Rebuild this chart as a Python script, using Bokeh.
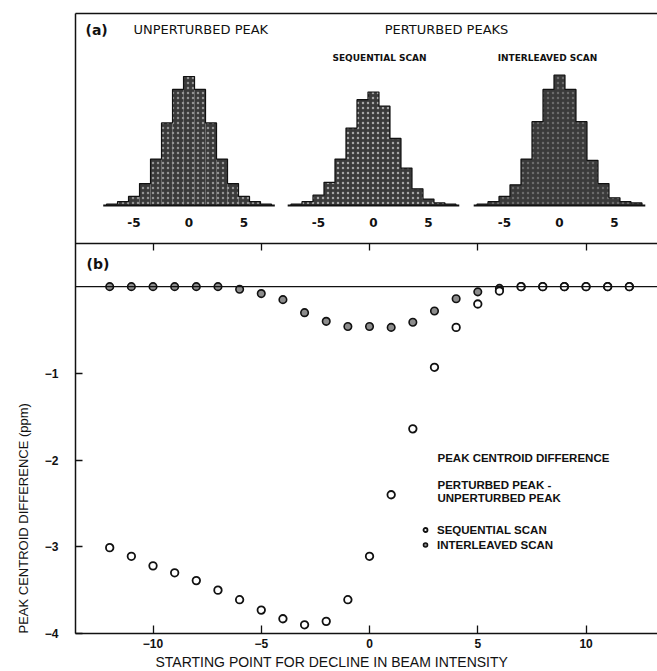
from bokeh.embed import file_html
from bokeh.models import FixedTicker, Label, Legend, LegendItem, LinearAxis, Range1d, Span, Title
from bokeh.plotting import figure
from bokeh.resources import INLINE

# ---- (a) peak shapes: counts per 1 ppm bin ----
hist_bins = list(range(-7, 8))
unperturbed_counts = [1, 3, 7, 17, 36, 64, 90, 100, 90, 64, 36, 17, 7, 3, 1]
sequential_counts = [1, 3, 8, 18, 36, 60, 82, 88, 77, 52, 29, 13, 5, 2, 1]
interleaved_counts = [1, 3, 7, 16, 36, 65, 90, 101, 90, 65, 35, 17, 6, 3, 2]
hist_tick_values = [-5, 0, 5]

# ---- (b) centroid difference vs starting point of the beam decline ----
start_point = list(range(-12, 13))
sequential_diff = [-3.01, -3.11, -3.22, -3.30, -3.39, -3.50, -3.61, -3.73, -3.83,
                   -3.90, -3.86, -3.61, -3.11, -2.40, -1.64, -0.93, -0.47, -0.20,
                   -0.05, 0.0, 0.0, 0.0, 0.0, 0.0, 0.0]
interleaved_diff = [0.0, 0.0, 0.0, 0.0, 0.0, 0.0, -0.03, -0.08, -0.15, -0.30,
                    -0.40, -0.46, -0.46, -0.47, -0.41, -0.28, -0.14, -0.06,
                    -0.02, 0.0, 0.0, 0.0, 0.0, 0.0, 0.0]
x_ticks = [-10, -5, 0, 5, 10]
y_ticks = [-4, -3, -2, -1]

# ---- page geometry ----
W, H = 657, 671
LEFT, TOP, BOTTOM = 75, 13, 38
FW, FH = W - LEFT, H - TOP - BOTTOM

X0, X1 = -13.58, 13.30
Y0, Y1 = -4.0, 3.15
SEPARATOR = 0.5

# histogram panel scale (ppm units / counts) and where each peak sits
HX = (0.0, 52.91)
HY = (-331.8, 148.84)
HIST_CENTERS = [10.32, 27.09, 44.0]
HATCH_ALPHA = [0.45, 0.55, 0.25]

INK = "#111111"
FONT = "Liberation Sans"
TFONT = "DejaVu Sans"


def dx(px):
    return X0 + (px - LEFT) * (X1 - X0) / FW


def dy(py):
    return Y1 - (py - TOP) * (Y1 - Y0) / FH


p = figure(width=W, height=H, x_range=Range1d(X0, X1), y_range=Range1d(Y0, Y1),
           output_backend="svg", toolbar_location=None,
           x_axis_location=None, y_axis_location=None,
           min_border_left=LEFT, min_border_right=0, min_border_top=TOP,
           min_border_bottom=BOTTOM, outline_line_color=None,
           background_fill_color="white", border_fill_color="white")
p.xgrid.visible = False
p.ygrid.visible = False
p.extra_x_ranges = {"hx": Range1d(*HX)}
p.extra_y_ranges = {"hy": Range1d(*HY)}


def style_axis(ax, show_labels=True):
    ax.axis_line_color = INK
    ax.axis_line_width = 1.5
    ax.major_tick_line_color = INK
    ax.major_tick_line_width = 1.3
    ax.minor_tick_line_color = None
    ax.major_tick_out = 0
    ax.major_label_text_font = FONT
    ax.major_label_text_font_style = "bold"
    ax.major_label_text_font_size = "12px"
    ax.major_label_text_color = INK if show_labels else None


# bottom and left axes of panel (b)
xaxis = LinearAxis(ticker=FixedTicker(ticks=x_ticks))
style_axis(xaxis)
xaxis.major_tick_in = 8
xaxis.major_label_standoff = 5
p.add_layout(xaxis, "below")

yaxis = LinearAxis(ticker=FixedTicker(ticks=y_ticks))
style_axis(yaxis)
yaxis.major_tick_in = 7
yaxis.major_label_standoff = 17
p.add_layout(yaxis, "left")

# top border of the whole box
top_axis = LinearAxis(ticker=FixedTicker(ticks=[]))
style_axis(top_axis, show_labels=False)
top_axis.major_label_standoff = 0
p.add_layout(top_axis, "above")

# divider between the two panels, ticked at the same positions as the x axis
divider = LinearAxis(ticker=FixedTicker(ticks=x_ticks), fixed_location=SEPARATOR)
style_axis(divider, show_labels=False)
divider.major_tick_in = 7
divider.major_label_standoff = 0
p.add_layout(divider, "above")

# axis titles
p.add_layout(Title(text="STARTING POINT FOR DECLINE IN BEAM INTENSITY", align="left",
                   offset=80, standoff=2, text_font=FONT, text_font_size="14px",
                   text_font_style="normal", text_color=INK), "below")
p.add_layout(Title(text="PEAK CENTROID DIFFERENCE (ppm)", align="left",
                   offset=0, standoff=21, text_font=FONT, text_font_size="13px",
                   text_font_style="normal", text_color=INK), "left")

# ---- panel (a): three peak histograms ----
hist_sets = [unperturbed_counts, sequential_counts, interleaved_counts]
for center, counts, h_alpha in zip(HIST_CENTERS, hist_sets, HATCH_ALPHA):
    lefts = [center + b - 0.5 for b in hist_bins]
    rights = [center + b + 0.5 for b in hist_bins]
    p.quad(left=lefts, right=rights, bottom=[0] * len(counts), top=counts,
           fill_color="#3a3a3a", line_color=None,
           hatch_pattern="dot", hatch_color="white", hatch_alpha=h_alpha,
           hatch_scale=5, hatch_weight=1.1,
           x_range_name="hx", y_range_name="hy")
    # stepped outline of the peak
    xs, ys = [lefts[0]], [0]
    for l, r, c in zip(lefts, rights, counts):
        xs += [l, r]
        ys += [c, c]
    xs.append(rights[-1])
    ys.append(0)
    p.line(xs, ys, line_color=INK, line_width=1.2,
           x_range_name="hx", y_range_name="hy")
    # base line
    p.line([lefts[0] - 0.3, rights[-1] + 0.3], [0, 0], line_color=INK, line_width=2.2,
           x_range_name="hx", y_range_name="hy")
    for t in hist_tick_values:
        p.add_layout(Label(x=center + t, y=-13, text=str(t), text_align="center",
                           text_baseline="middle", text_font=TFONT,
                           text_font_style="bold", text_font_size="12px",
                           text_color=INK, x_range_name="hx", y_range_name="hy"))


def label(px, py, text, size, font=FONT, style="normal", align="left"):
    p.add_layout(Label(x=dx(px), y=dy(py), text=text, text_font=font,
                       text_font_size=size, text_font_style=style,
                       text_align=align, text_baseline="middle",
                       text_color=INK))


label(85, 29, "(a)", "14px", TFONT, "bold")
label(133, 29, "UNPERTURBED PEAK", "13px", TFONT)
label(446, 29, "PERTURBED PEAKS", "13px", TFONT, align="center")
label(379, 57, "SEQUENTIAL SCAN", "9px", TFONT, "bold", align="center")
label(547, 57, "INTERLEAVED SCAN", "9px", TFONT, "bold", align="center")

# ---- panel (b) ----
p.add_layout(Span(location=0, dimension="width", line_color=INK, line_width=1.3))

int_r = p.scatter(start_point, interleaved_diff, marker="circle", size=7.5,
                  fill_color="#8c8c8c", line_color=INK, line_width=1.6)
seq_r = p.scatter(start_point, sequential_diff, marker="circle", size=7.5,
                  fill_color="white", line_color=INK, line_width=1.8)

label(86, 263, "(b)", "14px", TFONT, "bold")
label(437, 457, "PEAK CENTROID DIFFERENCE", "11.5px", FONT, "bold")
label(437, 484, "PERTURBED PEAK -", "11.5px", FONT, "bold")
label(437, 497, "UNPERTURBED PEAK", "11.5px", FONT, "bold")

legend = Legend(items=[LegendItem(label="SEQUENTIAL SCAN", renderers=[seq_r]),
                       LegendItem(label="INTERLEAVED SCAN", renderers=[int_r])],
                location=(345, 81), orientation="vertical",
                glyph_width=10, glyph_height=15, label_height=15, spacing=0,
                padding=0, margin=0, label_standoff=7,
                label_text_font=FONT, label_text_font_style="bold",
                label_text_font_size="11.5px", label_text_color=INK,
                border_line_color=None, background_fill_alpha=0)
p.add_layout(legend)

open("out.html", "w").write(file_html(p, INLINE))
